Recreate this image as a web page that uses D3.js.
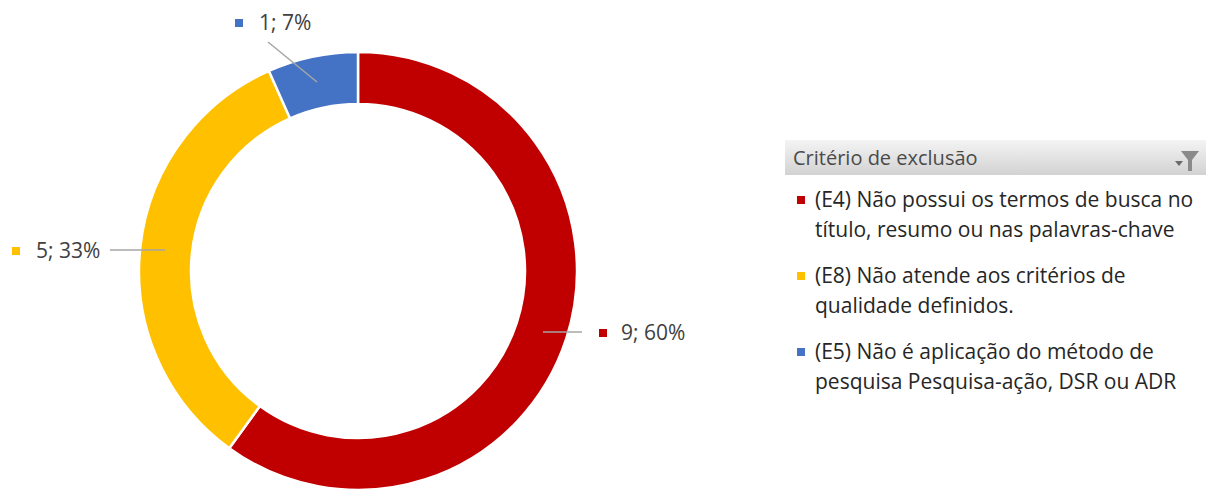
<!DOCTYPE html>
<html>
<head>
<meta charset="utf-8">
<script src="https://cdn.jsdelivr.net/npm/d3@7"></script>
<style>
  body { margin: 0; background: #fff; }
  svg { display: block; font-family: "Open Sans", "Noto Sans", sans-serif; }
</style>
</head>
<body>
<svg id="svg" width="1206" height="492"></svg>
<script>
// data
const categories = [
  '(E4) Não possui os termos de busca no título, resumo ou nas palavras-chave',
  '(E8) Não atende aos critérios de qualidade definidos.',
  '(E5) Não é aplicação do método de pesquisa Pesquisa-ação, DSR ou ADR'
];
const legendLines = [
  ['(E4) Não possui os termos de busca no', 'título, resumo ou nas palavras-chave'],
  ['(E8) Não atende aos critérios de', 'qualidade definidos.'],
  ['(E5) Não é aplicação do método de', 'pesquisa Pesquisa-ação, DSR ou ADR']
];
const counts = [9, 5, 1];
const percents = ['60%', '33%', '7%'];
const colours = ['#c00000', '#ffc000', '#4472c4'];

const config = {
  cx: 358, cy: 271,
  outerR: 219, innerR: 167,
};

const svg = d3.select('#svg');
const chart = svg.append('g')
  .attr('transform', `translate(${config.cx},${config.cy})`);

const pie = d3.pie().sort(null).value(d => d)(counts);
const arc = d3.arc().innerRadius(config.innerR).outerRadius(config.outerR);

chart.selectAll('.slice')
  .data(pie)
  .join('path')
  .attr('class', 'slice')
  .attr('d', arc)
  .attr('fill', (d, i) => colours[i])
  .attr('stroke', '#fff')
  .attr('stroke-width', 2.5);

// data labels with leader lines (positions relative to chart centre)
const labelPos = [
  { line: [[185, 61], [224, 61]], sq: [245, 62], text: [263, 62] },
  { line: [[-193, -21], [-248, -21]], sq: [-342, -20], text: [-322, -20] },
  { line: [[-41, -189], [-90, -229]], sq: [-119, -248], text: [-99, -248] }
];

const labels = chart.selectAll('.dlabel')
  .data(pie)
  .join('g')
  .attr('class', 'dlabel');

labels.append('line')
  .attr('x1', (d, i) => labelPos[i].line[0][0])
  .attr('y1', (d, i) => labelPos[i].line[0][1])
  .attr('x2', (d, i) => labelPos[i].line[1][0])
  .attr('y2', (d, i) => labelPos[i].line[1][1])
  .attr('stroke', '#a6a6a6')
  .attr('stroke-width', 1.5);

labels.append('rect')
  .attr('x', (d, i) => labelPos[i].sq[0] - 4)
  .attr('y', (d, i) => labelPos[i].sq[1] - 4)
  .attr('width', 8)
  .attr('height', 8)
  .attr('fill', (d, i) => colours[i]);

labels.append('text')
  .attr('x', (d, i) => labelPos[i].text[0])
  .attr('y', (d, i) => labelPos[i].text[1])
  .attr('dy', '0.35em')
  .style('font-size', '21px')
  .attr('fill', '#404040')
  .text((d, i) => `${counts[i]}; ${percents[i]}`);

// legend
const legend = svg.append('g').attr('transform', 'translate(785,140)');

const defs = svg.append('defs');
const grad = defs.append('linearGradient')
  .attr('id', 'hdr').attr('x1', 0).attr('x2', 0).attr('y1', 0).attr('y2', 1);
grad.append('stop').attr('offset', '0%').attr('stop-color', '#f4f4f4');
grad.append('stop').attr('offset', '100%').attr('stop-color', '#d2d2d2');

legend.append('rect')
  .attr('x', 0).attr('y', 0)
  .attr('width', 421).attr('height', 35)
  .attr('fill', 'url(#hdr)');

legend.append('text')
  .attr('x', 8).attr('y', 18)
  .attr('dy', '0.35em')
  .style('font-size', '20px')
  .attr('fill', '#4a4a4a')
  .text('Critério de exclusão');

// filter icon
const icon = legend.append('g').attr('transform', 'translate(390,11)');
icon.append('path').attr('d', 'M0,10 L8,10 L4,15 Z').attr('fill', '#6b6b6b');
icon.append('path').attr('d', 'M6,0 L24,0 L17,9 L17,20 L13,20 L13,9 Z').attr('fill', '#8a8a8a');

const items = legend.selectAll('.litem')
  .data(categories)
  .join('g')
  .attr('class', 'litem')
  .attr('transform', (d, i) => `translate(0,${60 + i * 76})`);

items.append('rect')
  .attr('x', 12).attr('y', -4)
  .attr('width', 8).attr('height', 8)
  .attr('fill', (d, i) => colours[i]);

items.append('text')
  .style('font-size', '21px')
  .attr('fill', '#262626')
  .selectAll('tspan')
  .data((d, i) => legendLines[i])
  .join('tspan')
  .attr('x', 30)
  .attr('y', (d, j) => j * 30)
  .attr('dy', '0.35em')
  .text(d => d);
</script>
</body>
</html>
